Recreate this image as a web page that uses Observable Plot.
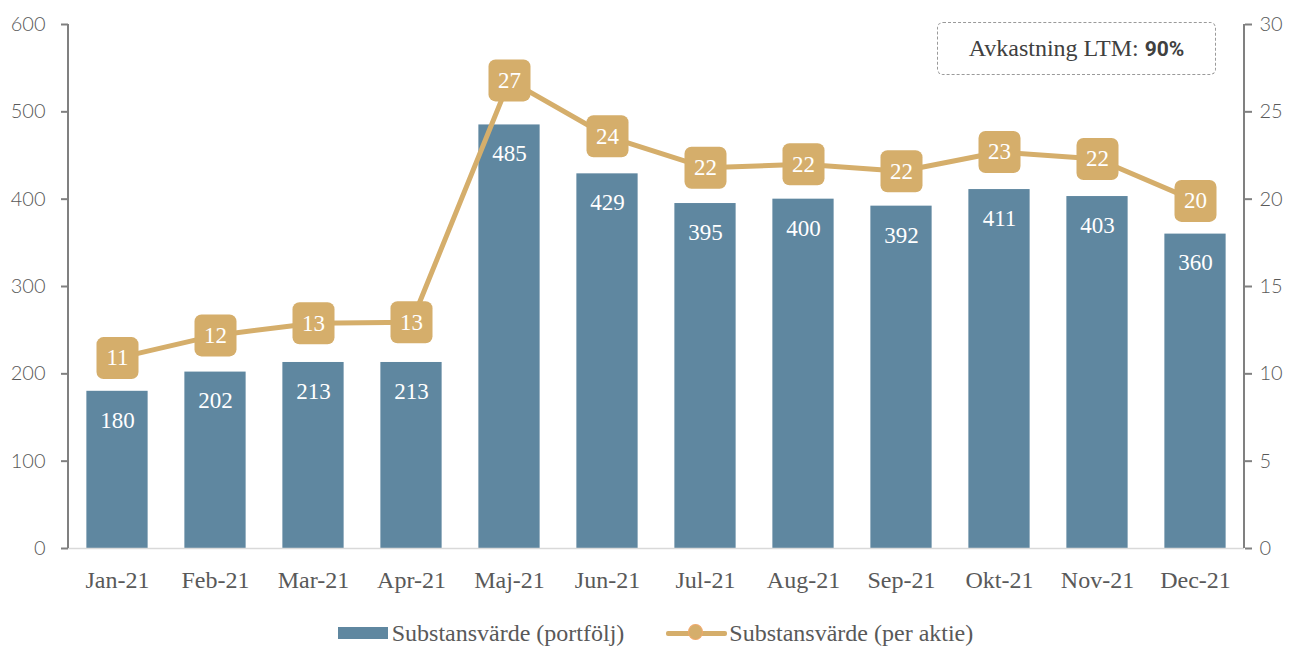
<!DOCTYPE html>
<html>
<head>
<meta charset="utf-8">
<script src="https://cdn.jsdelivr.net/npm/d3@7"></script>
<script src="https://cdn.jsdelivr.net/npm/@observablehq/plot@0.6"></script>
<style>
  body { margin: 0; background: #fff; }
  #wrap { position: relative; width: 1293px; height: 646px; }
  #box {
    position: absolute; left: 937px; top: 22px; width: 277px; height: 51px;
    border: 1.5px dashed #9a9a9a; border-radius: 6px;
    display: flex; align-items: center; justify-content: center;
    font-family: "Liberation Serif", serif; font-size: 24px; color: #404040;
  }
  #box b { font-family: "Roboto", "Liberation Sans", sans-serif; font-weight: 700; font-size: 21px; margin-left: 6px; }
  #legend {
    position: absolute; left: 0; top: 613px; width: 1293px; height: 40px; padding-left: 18px; box-sizing: border-box;
    display: flex; align-items: center; justify-content: center;
    font-family: "Liberation Serif", serif; font-size: 24px; color: #595959;
  }
  .item { display: flex; align-items: center; }
  .sw-bar { width: 50px; height: 12px; background: #5f87a0; margin-right: 4px; }
  .sw-line { position: relative; width: 61px; height: 18px; margin-right: 2px; }
  .sw-line .l { position: absolute; left: 0; top: 6.5px; width: 61px; height: 5px; background: #d5ae6b; border-radius: 2px; }
  .sw-line .c { position: absolute; left: 22px; top: 0; width: 15px; height: 16px; background: #d5ae6b; border: 1.5px solid #f0a96c; border-radius: 50%; box-sizing: border-box; }
</style>
</head>
<body>
<div id="wrap">
  <div id="chart"></div>
  <div id="box">Avkastning LTM:<b>90%</b></div>
  <div id="legend">
    <div class="item" style="margin-right:42px"><div class="sw-bar"></div>Substansvärde (portfölj)</div>
    <div class="item"><div class="sw-line"><div class="l"></div><div class="c"></div></div>Substansvärde (per aktie)</div>
  </div>
</div>
<script>
const months = ["Jan-21","Feb-21","Mar-21","Apr-21","Maj-21","Jun-21","Jul-21","Aug-21","Sep-21","Okt-21","Nov-21","Dec-21"];
const portfolio = [180, 202, 213, 213, 485, 429, 395, 400, 392, 411, 403, 360];
const perShare = [10.9, 12.2, 12.9, 12.95, 26.8, 23.6, 21.8, 22.0, 21.6, 22.7, 22.3, 19.9];
const perShareLabels = [11, 12, 13, 13, 27, 24, 22, 22, 22, 23, 22, 20];
const leftTicks = [0, 100, 200, 300, 400, 500, 600];
const rightTicks = [0, 5, 10, 15, 20, 25, 30];

const ratio = 20; // 600 / 30
const data = months.map((m, i) => ({
  month: m, value: portfolio[i], share: perShare[i], shareY: perShare[i] * ratio, label: perShareLabels[i]
}));

const roundedSquare = {
  draw(ctx, size) {
    const h = Math.sqrt(size / Math.PI);
    const c = 7;
    ctx.moveTo(-h + c, -h);
    ctx.lineTo(h - c, -h);
    ctx.arcTo(h, -h, h, -h + c, c);
    ctx.lineTo(h, h - c);
    ctx.arcTo(h, h, h - c, h, c);
    ctx.lineTo(-h + c, h);
    ctx.arcTo(-h, h, -h, h - c, c);
    ctx.lineTo(-h, -h + c);
    ctx.arcTo(-h, -h, -h + c, -h, c);
    ctx.closePath();
  }
};

const serif = "Liberation Serif, serif";
const sans = "Lato, Liberation Sans, sans-serif";

const chart = Plot.plot({
  width: 1293,
  height: 600,
  marginTop: 24,
  marginBottom: 52,
  marginLeft: 68,
  marginRight: 49,
  style: { background: "transparent", overflow: "visible" },
  x: { domain: months, paddingInner: 0.375, paddingOuter: 0.1875, round: false, label: null },
  y: { domain: [0, 600], label: null },
  marks: [
    Plot.barY(data, { x: "month", y: "value", fill: "#5f87a0" }),
    Plot.ruleY([0], { stroke: "#d9d9d9", strokeWidth: 1.5 }),
    Plot.axisY({ anchor: "left", ticks: leftTicks, tickSize: 7, tickPadding: 16, stroke: "#808080", strokeWidth: 2,
      fontSize: 20, fontFamily: sans, fontWeight: 300, fill: "#595959", label: null }),
    Plot.axisY({ anchor: "right", ticks: rightTicks.map(d => d * ratio), tickFormat: d => d / ratio,
      tickSize: 7, tickPadding: 8, stroke: "#808080", strokeWidth: 2,
      fontSize: 20, fontFamily: sans, fontWeight: 300, fill: "#595959", label: null }),
    Plot.axisX({ tickSize: 0, tickPadding: 22, fontSize: 24, fontFamily: serif, fill: "#595959", label: null }),
    Plot.text(data, { x: "month", y: "value", text: d => String(d.value), dy: 29, fill: "#ffffff",
      fontSize: 23, fontFamily: serif }),
    Plot.line(data, { x: "month", y: "shareY", stroke: "#d5ae6b", strokeWidth: 5 }),
    Plot.dot(data, { x: "month", y: "shareY", r: 21, symbol: roundedSquare, fill: "#d5ae6b", stroke: "none" }),
    Plot.text(data, { x: "month", y: "shareY", text: d => String(d.label), fill: "#ffffff",
      fontSize: 23, fontFamily: serif })
  ]
});

// axis lines on both sides
const svg = d3.select(chart);
[68, 1244].forEach(x => {
  svg.append("line")
    .attr("x1", x).attr("x2", x).attr("y1", 24).attr("y2", 548)
    .attr("stroke", "#808080").attr("stroke-width", 2);
});

document.getElementById("chart").appendChild(chart);
</script>
</body>
</html>
